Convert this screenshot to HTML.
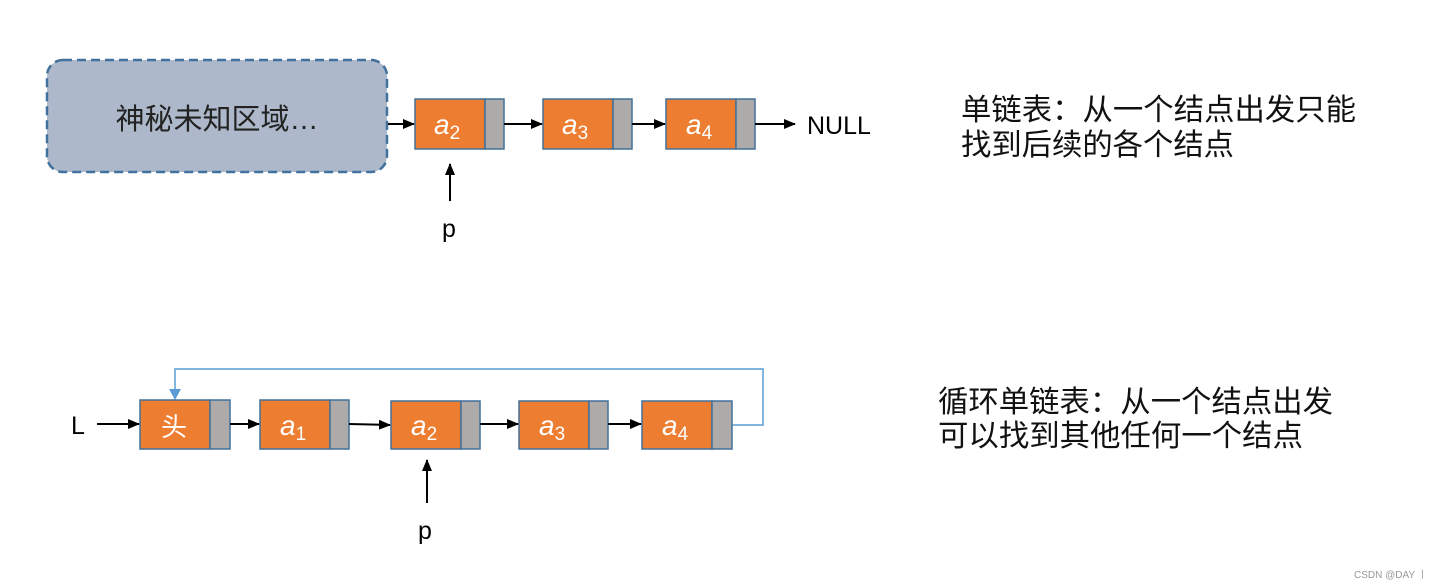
<!DOCTYPE html>
<html><head><meta charset="utf-8"><style>
body{margin:0;background:#fff}
svg{display:block}
text{font-family:"Liberation Sans","Noto Sans CJK SC",sans-serif}
</style></head><body>
<svg width="1436" height="587" viewBox="0 0 1436 587" xmlns="http://www.w3.org/2000/svg">
<defs>
<marker id="ar" markerWidth="12" markerHeight="10" refX="11" refY="5" orient="auto" markerUnits="userSpaceOnUse"><path d="M0,0 L12,5 L0,10 z" fill="#000"/></marker>
</defs>
<!-- top -->
<rect x="47" y="60" width="340" height="112" rx="16" fill="#adb9ca" stroke="#41719c" stroke-width="2.5" stroke-dasharray="9,5"/>
<text x="217" y="129" font-size="29" text-anchor="middle" fill="#222">神秘未知区域…</text>
<g stroke="#41719c" stroke-width="1.5">
<rect x="415" y="99" width="70" height="50" fill="#ed7d31"/><rect x="485" y="99" width="19" height="50" fill="#aeaaaa"/>
<rect x="543" y="99" width="70" height="50" fill="#ed7d31"/><rect x="613" y="99" width="19" height="50" fill="#aeaaaa"/>
<rect x="666" y="99" width="70" height="50" fill="#ed7d31"/><rect x="736" y="99" width="19" height="50" fill="#aeaaaa"/>
</g>
<g fill="#fff" font-size="28" font-style="italic">
<text x="434" y="134">a<tspan font-size="19" font-style="normal" dy="5">2</tspan></text>
<text x="562" y="134">a<tspan font-size="19" font-style="normal" dy="5">3</tspan></text>
<text x="686" y="134">a<tspan font-size="19" font-style="normal" dy="5">4</tspan></text>
</g>
<g stroke="#000" stroke-width="2" marker-end="url(#ar)">
<line x1="388" y1="124" x2="414" y2="124"/>
<line x1="504" y1="124" x2="542" y2="124"/>
<line x1="632" y1="124" x2="665" y2="124"/>
<line x1="755" y1="124" x2="795" y2="124"/>
<line x1="450" y1="201" x2="450" y2="164"/>
</g>
<text x="807" y="134" font-size="25" fill="#000">NULL</text>
<text x="442" y="237" font-size="25" fill="#000">p</text>
<text x="961" y="120" font-size="30" fill="#111" textLength="395" lengthAdjust="spacingAndGlyphs">单链表：从一个结点出发只能</text>
<text x="961" y="155" font-size="30" fill="#111" textLength="273" lengthAdjust="spacingAndGlyphs">找到后续的各个结点</text>
<!-- bottom -->
<polyline points="732,425 763,425 763,369 175,369 175,398" fill="none" stroke="#5b9bd5" stroke-width="1.5"/>
<path d="M169,389 L181,389 L175,400 z" fill="#5b9bd5"/>
<g stroke="#41719c" stroke-width="1.5">
<rect x="140" y="400" width="70" height="49" fill="#ed7d31"/><rect x="210" y="400" width="20" height="49" fill="#aeaaaa"/>
<rect x="260" y="400" width="70" height="49" fill="#ed7d31"/><rect x="330" y="400" width="19" height="49" fill="#aeaaaa"/>
<rect x="391" y="401" width="70" height="48" fill="#ed7d31"/><rect x="461" y="401" width="19" height="48" fill="#aeaaaa"/>
<rect x="519" y="401" width="70" height="48" fill="#ed7d31"/><rect x="589" y="401" width="19" height="48" fill="#aeaaaa"/>
<rect x="642" y="401" width="70" height="48" fill="#ed7d31"/><rect x="712" y="401" width="20" height="48" fill="#aeaaaa"/>
</g>
<g fill="#fff" font-size="28" font-style="italic">
<text x="161" y="436" font-style="normal" font-size="26">头</text>
<text x="280" y="435">a<tspan font-size="19" font-style="normal" dy="5">1</tspan></text>
<text x="411" y="435">a<tspan font-size="19" font-style="normal" dy="5">2</tspan></text>
<text x="539" y="435">a<tspan font-size="19" font-style="normal" dy="5">3</tspan></text>
<text x="662" y="435">a<tspan font-size="19" font-style="normal" dy="5">4</tspan></text>
</g>
<g stroke="#000" stroke-width="2" marker-end="url(#ar)">
<line x1="97" y1="424" x2="139" y2="424"/>
<line x1="230" y1="424" x2="259" y2="424"/>
<line x1="349" y1="424" x2="390" y2="425"/>
<line x1="480" y1="424" x2="518" y2="424"/>
<line x1="608" y1="424" x2="641" y2="424"/>
<line x1="427" y1="503" x2="427" y2="460"/>
</g>
<text x="71" y="434" font-size="25" fill="#000">L</text>
<text x="418" y="539" font-size="25" fill="#000">p</text>
<text x="938" y="412" font-size="30" fill="#111" textLength="395" lengthAdjust="spacingAndGlyphs">循环单链表：从一个结点出发</text>
<text x="938" y="446" font-size="30" fill="#111" textLength="365" lengthAdjust="spacingAndGlyphs">可以找到其他任何一个结点</text>
<text x="1354" y="578" font-size="10" fill="#999">CSDN @DAY 丨</text>
</svg>
</body></html>
